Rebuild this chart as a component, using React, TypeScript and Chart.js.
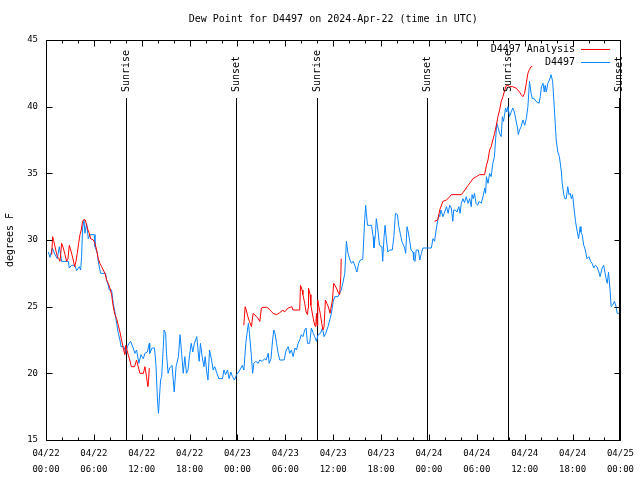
import React, { useEffect, useRef } from "react";
import { Chart, registerables } from "chart.js";
Chart.register(...registerables);

const chartTitle = "Dew Point for D4497 on 2024-Apr-22 (time in UTC)";
const yAxisTitle = "degrees F";
const xTickHours = [0, 6, 12, 18, 24, 30, 36, 42, 48, 54, 60, 66, 72];
const xDateLabels = ["04/22", "04/22", "04/22", "04/22", "04/23", "04/23", "04/23", "04/23", "04/24", "04/24", "04/24", "04/24", "04/25"];
const xTimeLabels = ["00:00", "06:00", "12:00", "18:00", "00:00", "06:00", "12:00", "18:00", "00:00", "06:00", "12:00", "18:00", "00:00"];
const yTicks = [15, 20, 25, 30, 35, 40, 45];

const sunLabels = ["Sunrise", "Sunset", "Sunrise", "Sunset", "Sunrise", "Sunset"];
const sunHours = [10.0, 23.85, 33.95, 47.75, 57.95, 71.8];

const seriesNames = ["D4497 Analysis", "D4497"];
const seriesColors = ["#ff0000", "#0a84ff"];

// D4497 (observed), hours since 04/22 00:00 UTC
const obsHours = [
  0.29, 0.5, 0.79, 1.13, 1.42, 1.67, 1.96, 2.8, 2.92, 3.2, 3.63, 3.84, 4.17, 4.34, 4.46, 4.59, 4.76, 4.88, 5.09, 5.3,
  5.5, 6.05, 6.14, 6.43, 6.55, 6.84, 7.47, 7.6, 7.8, 7.93, 8.22, 8.43, 8.64, 8.85, 9.06, 9.27, 9.4, 9.77, 10.0, 10.2,
  10.4, 10.6, 10.93, 11.14, 11.35, 11.65, 11.9, 12.2, 12.4, 12.7, 12.95, 13.0, 13.3, 13.6, 13.77, 13.98, 14.1, 14.2, 14.36, 14.5,
  14.7, 14.8, 15.0, 15.1, 15.3, 15.5, 15.8, 16.07, 16.3, 16.6, 16.8, 17.0, 17.2, 17.4, 17.6, 17.8, 18.0, 18.2, 18.4, 18.6,
  18.9, 19.08, 19.2, 19.36, 19.57, 19.8, 19.95, 20.12, 20.3, 20.5, 20.75, 20.95, 21.15, 21.37, 21.66, 22.12, 22.3, 22.5, 22.75, 22.95,
  23.17, 23.37, 23.62, 23.88, 24.3, 24.6, 24.8, 25.04, 25.25, 25.37, 25.5, 25.75, 25.9, 26.05, 26.3, 26.6, 26.8, 27.1, 27.4, 27.6,
  27.85, 27.97, 28.2, 28.4, 28.55, 28.7, 28.9, 29.1, 29.3, 29.85, 30.1, 30.35, 30.55, 30.76, 30.97, 31.2, 31.4, 31.6, 31.8, 32.0,
  32.2, 32.43, 32.6, 32.77, 33.05, 33.26, 33.5, 33.68, 33.9, 34.1, 34.4, 34.65, 34.85, 35.06, 35.35, 35.56, 35.77, 36.0, 36.2, 36.6,
  36.8, 37.0, 37.2, 37.45, 37.65, 37.85, 38.1, 38.3, 38.5, 38.7, 38.96, 39.2, 39.4, 39.7, 39.95, 40.07, 40.15, 40.3, 40.8, 41.0,
  41.1, 41.3, 41.4, 41.6, 41.8, 42.1, 42.2, 42.37, 42.5, 42.65, 42.85, 43.07, 43.4, 43.6, 43.8, 44.05, 44.2, 44.4, 44.6, 44.95,
  45.08, 45.25, 45.4, 45.6, 45.75, 46.0, 46.1, 46.25, 46.4, 46.67, 46.85, 47.05, 47.25, 48.3, 48.5, 48.7, 48.9, 49.1, 49.25, 49.35,
  49.5, 49.75, 49.96, 50.2, 50.4, 50.6, 50.8, 50.99, 51.1, 51.3, 51.5, 51.75, 51.9, 52.05, 52.26, 52.45, 52.67, 52.9, 53.1, 53.3,
  53.4, 53.55, 53.7, 53.9, 54.1, 54.3, 54.55, 54.77, 55.0, 55.1, 55.2, 55.4, 55.6, 55.8, 56.0, 56.2, 56.35, 56.5, 56.68, 56.85,
  57.05, 57.2, 57.35, 57.6, 57.75, 57.9, 58.1, 58.3, 58.5, 58.7, 58.9, 59.1, 59.2, 59.35, 59.55, 59.78, 60.0, 60.2, 60.4, 60.6,
  60.8, 60.95, 61.2, 61.4, 61.8, 61.95, 62.1, 62.3, 62.45, 62.56, 62.7, 62.9, 63.1, 63.3, 63.5, 63.65, 63.8, 63.95, 64.15, 64.35,
  64.6, 64.7, 64.9, 65.03, 65.2, 65.4, 65.55, 65.7, 65.85, 66.0, 66.2, 66.37, 66.5, 66.75, 66.95, 67.05, 67.2, 67.4, 67.6, 67.8,
  68.05, 68.25, 68.45, 68.65, 68.85, 69.05, 69.3, 69.45, 69.7, 69.9, 70.05, 70.2, 70.35, 70.5, 70.7, 70.83, 71.0, 71.25, 71.45, 71.6,
  71.8,
];
const obsValues = [
  29.1, 28.7, 29.4, 28.9, 28.6, 29.5, 28.4, 28.4, 27.9, 28.1, 28.1, 27.7, 28.0, 27.75, 28.75, 30.9, 31.5, 30.5, 31.25, 30.1,
  30.4, 30.4, 29.5, 29.0, 28.4, 27.5, 27.5, 27.0, 26.6, 26.25, 26.25, 25.25, 24.6, 23.75, 23.0, 22.5, 22.0, 22.0, 21.5, 22.0,
  22.25, 22.4, 21.9, 21.5, 21.75, 20.75, 21.4, 21.1, 21.5, 21.6, 22.25, 21.5, 21.9, 21.9, 20.75, 17.9, 17.0, 18.0, 19.5, 19.75,
  22.0, 23.25, 23.0, 21.5, 20.0, 20.4, 20.6, 18.6, 20.5, 21.25, 22.9, 21.5, 20.0, 21.25, 20.0, 20.25, 21.4, 22.25, 21.6, 22.25,
  22.75, 21.6, 20.9, 22.25, 21.25, 20.5, 21.25, 20.25, 19.5, 21.75, 21.0, 20.25, 20.5, 20.1, 19.6, 19.6, 20.25, 19.9, 20.25, 19.6,
  20.1, 19.75, 19.5, 19.9, 20.25, 20.6, 20.25, 22.25, 23.25, 23.75, 23.0, 21.25, 20.0, 20.75, 20.9, 20.75, 21.0, 20.9, 21.1, 21.0,
  21.5, 20.75, 21.1, 22.5, 23.25, 23.0, 22.25, 21.5, 21.0, 21.0, 21.75, 22.0, 21.5, 21.75, 21.25, 21.9, 21.75, 22.25, 22.5, 22.9,
  22.75, 23.25, 23.4, 22.25, 22.25, 23.4, 23.0, 22.75, 22.4, 22.9, 23.0, 23.4, 22.75, 23.0, 23.5, 24.0, 24.5, 25.4, 25.75, 25.75,
  26.0, 26.25, 26.75, 27.5, 29.9, 29.0, 28.5, 28.25, 28.4, 28.1, 27.6, 28.25, 28.5, 28.55, 31.6, 32.6, 32.0, 31.1, 31.1, 30.25,
  29.4, 30.5, 31.6, 30.75, 29.6, 29.5, 28.4, 30.25, 31.1, 30.1, 29.1, 29.25, 29.25, 30.25, 32.0, 31.9, 31.1, 30.5, 29.9, 29.4,
  29.0, 31.0, 30.6, 29.9, 29.25, 29.1, 28.5, 28.4, 29.25, 29.25, 28.5, 29.0, 29.4, 29.4, 30.1, 29.9, 30.75, 31.5, 31.9, 31.75,
  32.25, 31.75, 32.1, 32.5, 32.0, 32.6, 32.4, 31.4, 32.25, 32.25, 32.1, 32.5, 32.0, 32.75, 33.1, 32.8, 33.25, 32.75, 33.1, 32.5,
  33.4, 33.1, 33.5, 32.75, 32.6, 32.9, 32.75, 33.25, 33.9, 33.5, 34.75, 34.25, 35.0, 34.75, 35.75, 36.25, 37.5, 38.75, 38.4, 38.0,
  37.75, 39.25, 38.9, 39.9, 39.6, 40.0, 39.25, 39.6, 39.9, 39.6, 39.0, 38.4, 37.9, 38.25, 38.5, 39.0, 38.6, 39.1, 40.0, 41.9,
  41.0, 40.6, 40.6, 40.4, 40.25, 40.75, 41.5, 41.75, 41.1, 41.6, 41.1, 41.75, 42.0, 42.4, 41.9, 40.5, 39.0, 37.5, 36.6, 36.25,
  35.1, 34.25, 33.4, 33.1, 33.1, 34.0, 33.4, 33.5, 33.1, 33.4, 32.25, 31.4, 30.9, 30.1, 31.0, 30.6, 30.4, 29.6, 29.25, 28.6,
  28.75, 28.4, 28.25, 27.9, 28.1, 28.0, 27.6, 27.25, 27.9, 28.1, 27.6, 27.1, 26.75, 27.6, 26.25, 25.0, 25.1, 25.4, 25.0, 24.5,
  24.5,
];

// D4497 Analysis; null marks a gap in the analysis
const anaHours = [
  0.71, 0.84, 0.98, 1.13, 1.28, 1.42, 1.6, 1.75, 1.85, 1.96, 2.17, 2.38, 2.59, 2.75, 2.92, 3.09, 3.25, 3.42, 3.59, 3.76,
  3.92, 4.09, 4.26, 4.42, 4.59, 4.76, 4.92, 5.09, 5.26, 5.43, 5.59, 5.93, 6.14, 6.35, 6.55, 6.76, 6.97, 7.18, 7.39, 7.6,
  7.8, 8.01, 8.22, 8.43, 8.64, 8.85, 9.06, 9.27, 9.47, 9.68, 9.89, 10.0, 10.15, 10.3, 10.5, 10.7, 11.1, 11.35, 11.56, 11.77,
  12.2, 12.4, 12.6, 12.77, 12.85, 12.94, 18.0,
  24.79, 24.96, 25.1, 25.3, 25.5, 25.75, 25.96, 26.17, 26.38, 26.6, 26.8, 27.0, 27.2, 27.64, 27.85, 28.05, 28.47, 28.9, 29.3, 29.7,
  29.9, 30.35, 30.8, 30.97, 31.8, 31.9, 32.1, 32.2, 32.43, 32.6, 32.77, 32.85, 32.9, 33.1, 33.2, 33.5, 33.68, 33.8, 33.9, 33.98,
  34.06, 34.2, 34.4, 34.56, 34.7, 34.85, 35.02, 35.2, 35.44, 35.6, 35.9, 36.06, 36.2, 36.4, 36.6, 36.8, 36.95, 37.0, 42.0,
  48.7, 49.1, 49.35, 49.75, 50.2, 50.6, 50.8, 52.05, 52.5, 52.9, 53.3, 53.5, 53.93, 54.35, 54.97, 55.2, 55.4, 55.6, 55.8, 56.0,
  56.23, 56.44, 56.65, 56.85, 57.06, 57.27, 57.5, 57.7, 57.9, 58.1, 58.5, 58.9, 59.35, 59.56, 59.77, 59.98, 60.2, 60.4, 60.6, 60.8,
  60.95,
];
const anaValues = [
  28.9, 30.25, 29.9, 29.5, 29.1, 28.75, 28.6, 28.4, 29.0, 29.75, 29.4, 28.9, 28.4, 28.6, 29.6, 29.25, 28.9, 28.5, 28.0, 28.4,
  29.0, 29.75, 30.4, 30.75, 31.4, 31.55, 31.5, 31.1, 30.75, 30.5, 30.1, 30.0, 29.75, 29.25, 28.6, 28.25, 28.0, 27.75, 27.5, 27.0,
  26.75, 26.4, 25.9, 25.0, 24.4, 24.1, 23.6, 23.1, 22.5, 21.9, 21.4, 22.1, 21.75, 21.4, 21.0, 20.5, 20.5, 21.0, 20.5, 20.0,
  20.0, 20.5, 19.75, 19.0, 19.4, 20.4, null,
  23.6, 25.0, 24.75, 24.25, 23.9, 23.5, 24.5, 24.4, 24.25, 24.1, 23.9, 24.9, 24.95, 24.95, 24.9, 24.75, 24.5, 24.4, 24.55, 24.75,
  24.6, 24.9, 25.0, 24.75, 24.75, 26.6, 26.25, 25.9, 25.25, 24.6, 24.4, 24.9, 26.4, 25.9, 25.1, 24.1, 23.6, 23.5, 24.5, 23.6,
  25.5, 25.0, 24.4, 23.75, 23.25, 23.5, 25.5, 25.25, 24.9, 24.5, 25.5, 26.75, 26.6, 26.4, 26.1, 25.9, 27.25, 28.6, null,
  31.4, 31.5, 32.25, 32.9, 33.0, 33.25, 33.4, 33.4, 33.75, 34.1, 34.4, 34.6, 34.75, 34.9, 34.9, 35.6, 36.0, 36.75, 37.0, 37.5,
  38.0, 38.6, 39.25, 39.75, 40.4, 40.75, 41.25, 41.6, 41.6, 41.5, 41.5, 41.4, 41.1, 40.9, 40.75, 41.0, 41.75, 42.5, 42.8, 43.0,
  43.0,
];

const MONO = '"DejaVu Sans Mono", "Liberation Mono", monospace';

const overlayPlugin = {
  id: "gnuplotOverlay",
  beforeDatasetsDraw(chart: any) {
    const { ctx, chartArea: a, scales } = chart;
    const xs = scales.x;
    ctx.save();
    ctx.strokeStyle = "#000";
    ctx.lineWidth = 1;
    sunHours.forEach((h) => {
      const x = Math.round(xs.getPixelForValue(h)) + 0.5;
      ctx.beginPath();
      ctx.moveTo(x, 98);
      ctx.lineTo(x, a.bottom);
      ctx.stroke();
    });
    ctx.restore();
  },
  afterDatasetsDraw(chart: any) {
    const { ctx, chartArea: a, scales } = chart;
    const xs = scales.x;
    const ys = scales.y;
    ctx.save();
    ctx.strokeStyle = "#000";
    ctx.fillStyle = "#000";
    ctx.lineWidth = 1;
    const L = Math.round(a.left) + 0.5;
    const R = Math.round(a.right) + 0.5;
    const T = Math.round(a.top) + 0.5;
    const B = Math.round(a.bottom) + 0.5;
    ctx.beginPath();
    ctx.rect(L, T, R - L, B - T);
    ctx.stroke();
    // x ticks (inward, top and bottom)
    for (let h = xs.min; h <= xs.max; h += 2) {
      const x = Math.round(xs.getPixelForValue(h)) + 0.5;
      const len = h % 6 === 0 ? 6 : 3;
      ctx.beginPath();
      ctx.moveTo(x, B);
      ctx.lineTo(x, B - len);
      ctx.moveTo(x, T);
      ctx.lineTo(x, T + len);
      ctx.stroke();
    }
    yTicks.forEach((v) => {
      const y = Math.round(ys.getPixelForValue(v)) + 0.5;
      ctx.beginPath();
      ctx.moveTo(L, y);
      ctx.lineTo(L + 6, y);
      ctx.moveTo(R, y);
      ctx.lineTo(R - 6, y);
      ctx.stroke();
    });
    // title
    ctx.font = `10px ${MONO}`;
    ctx.textAlign = "center";
    ctx.textBaseline = "middle";
    ctx.fillText(chartTitle, (a.left + a.right) / 2, 19);
    // y axis title
    ctx.save();
    ctx.translate(10, (a.top + a.bottom) / 2);
    ctx.rotate(-Math.PI / 2);
    ctx.fillText(yAxisTitle, 0, 0);
    ctx.restore();
    // sunrise / sunset labels
    sunHours.forEach((h, i) => {
      const x = Math.round(xs.getPixelForValue(h)) + 0.5;
      ctx.save();
      ctx.translate(x, 92);
      ctx.rotate(-Math.PI / 2);
      ctx.textAlign = "left";
      ctx.textBaseline = "middle";
      ctx.fillText(sunLabels[i], 0, 0);
      ctx.restore();
    });
    // legend
    const rows = [49, 62];
    seriesNames.forEach((name, i) => {
      ctx.textAlign = "right";
      ctx.textBaseline = "middle";
      ctx.fillStyle = "#000";
      ctx.fillText(name, 575, rows[i]);
      ctx.strokeStyle = seriesColors[i];
      ctx.beginPath();
      ctx.moveTo(581, rows[i] + 0.5);
      ctx.lineTo(610, rows[i] + 0.5);
      ctx.stroke();
    });
    ctx.restore();
  },
};

export default function App() {
  const ref = useRef<HTMLCanvasElement>(null);
  useEffect(() => {
    document.body.style.margin = "0";
    const canvas = ref.current;
    if (!canvas) return;
    const toPoints = (hs: number[], vs: (number | null)[]) => hs.map((h, i) => ({ x: h, y: vs[i] }));
    const chart = new Chart(canvas, {
      type: "line",
      data: {
        datasets: [
          {
            label: seriesNames[0],
            data: toPoints(anaHours, anaValues) as any,
            borderColor: seriesColors[0],
            borderWidth: 1,
            pointRadius: 0,
            tension: 0,
            spanGaps: false,
          },
          {
            label: seriesNames[1],
            data: toPoints(obsHours, obsValues) as any,
            borderColor: seriesColors[1],
            borderWidth: 1,
            pointRadius: 0,
            tension: 0,
            spanGaps: false,
          },
        ],
      },
      options: {
        animation: false,
        responsive: false,
        devicePixelRatio: 1,
        layout: { padding: { top: 40, right: 19, left: 0, bottom: 0 } },
        plugins: { legend: { display: false }, title: { display: false }, tooltip: { enabled: false } },
        scales: {
          x: {
            type: "linear",
            min: 0,
            max: 72,
            grid: { display: false, drawTicks: false },
            border: { display: false },
            afterBuildTicks: (scale: any) => {
              scale.ticks = xTickHours.map((v) => ({ value: v }));
            },
            afterFit: (scale: any) => {
              scale.height = 40;
            },
            ticks: {
              autoSkip: false,
              maxRotation: 0,
              minRotation: 0,
              padding: 6,
              color: "#000",
              font: { family: MONO, size: 9, lineHeight: 1.75 },
              callback: (v: any) => {
                const i = xTickHours.indexOf(Number(v));
                return i >= 0 ? [xDateLabels[i], xTimeLabels[i]] : "";
              },
            },
          },
          y: {
            type: "linear",
            min: 15,
            max: 45,
            grid: { display: false, drawTicks: false },
            border: { display: false },
            afterBuildTicks: (scale: any) => {
              scale.ticks = yTicks.map((v) => ({ value: v }));
            },
            afterFit: (scale: any) => {
              scale.width = 46;
            },
            ticks: {
              padding: 8,
              color: "#000",
              font: { family: MONO, size: 9 },
            },
          },
        },
      },
      plugins: [overlayPlugin],
    });
    return () => chart.destroy();
  }, []);
  return (
    <div style={{ width: 640, height: 480 }}>
      <canvas ref={ref} width={640} height={480} style={{ display: "block", width: 640, height: 480 }} />
    </div>
  );
}
